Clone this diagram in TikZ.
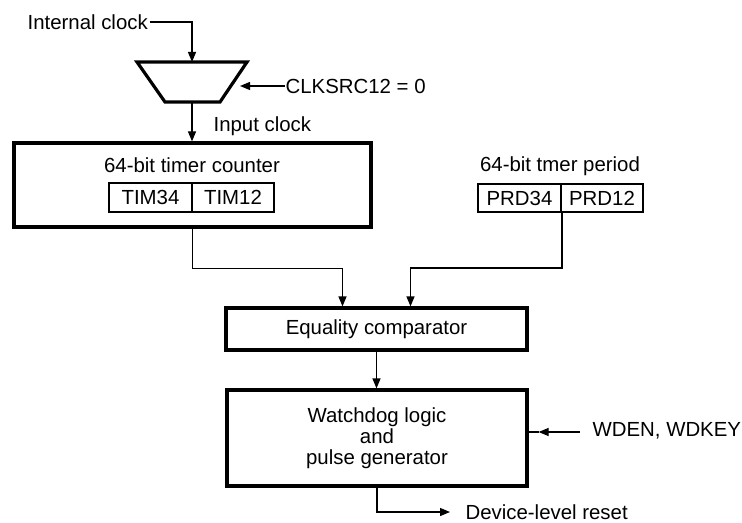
\documentclass[tikz,border=0pt]{standalone}
\usepackage{fontspec}
\setmainfont{Liberation Sans}
\usetikzlibrary{arrows.meta}
\tikzset{
  blk/.style={draw,line width=1.6pt,inner sep=0pt},
  reg/.style={draw,line width=0.9pt,inner sep=0pt},
  lbl/.style={inner sep=0pt},
  arr/.style={-{Triangle[length=5pt,width=4pt]}},
}
\begin{document}
\begin{tikzpicture}[x=0.5pt,y=-0.5pt,line width=0.6pt,font=\fontsize{10.2}{10.5}\selectfont]
  \useasboundingbox (0,0) rectangle (742,523);
  \node[lbl,anchor=west] (intclk) at (27,22) {Internal clock};
  \draw[line width=1.6pt,line join=miter] (137,62) coordinate (muxtop) -- (247,62)
    -- (220,102) -- (165,102) coordinate (muxbl) -- cycle;
  \coordinate (muxin) at (192,62);
  \coordinate (muxout) at (192,102);
  \node[lbl,anchor=west] (clksrc) at (285,86) {CLKSRC12 = 0};
  \coordinate (clktip) at (240,86);
  \node[lbl,anchor=base west] (inclk) at (213,131.5) {Input clock};
  \node[blk,minimum width=178.5pt,minimum height=42pt] (counter) at (192.5,185) {};
  \node[lbl,anchor=base] (cntname) at (192,173) {64-bit timer counter};
  \node[reg,minimum width=41.5pt,minimum height=14.5pt] (tim34) at (150.5,197.5) {TIM34};
  \node[reg,minimum width=41pt,minimum height=14.5pt] (tim12) at (233,197.5) {TIM12};
  \node[lbl,anchor=base] (prdname) at (560,172) {64-bit tmer period};
  \node[reg,minimum width=41.5pt,minimum height=14pt] (prd34) at (519.5,198) {PRD34};
  \node[reg,minimum width=41pt,minimum height=14pt] (prd12) at (602,198) {PRD12};
  \node[blk,minimum width=150.5pt,minimum height=21pt] (comp) at (376.5,329) {Equality comparator};
  \node[blk,minimum width=150pt,minimum height=48pt,align=center] (wdog) at (377,438)
    {Watchdog logic\\and\\pulse generator};
  \node[lbl,anchor=west] (wdkey) at (592,431) {WDEN, WDKEY};
  \coordinate (wdin) at (580,432);
  \node[lbl,anchor=west] (reset) at (465,512) {Device-level reset};
  \begin{scope}[arr]
    \draw ([xshift=1pt]intclk.east) -| (muxin);
    \draw (clksrc.west) -- (clktip);
    \draw (muxout) -- (muxout |- counter.north);
    \draw (counter.south) -- ++(0,40) -| ([xshift=-17pt]comp.north);
    \draw (prd34.south east) -- ++(0,55) -| ([xshift=17pt]comp.north);
    \draw (comp.south) -- (comp.south |- wdog.north);
    \draw (wdin) -- ([xshift=5pt]wdog.east |- wdin) coordinate (wdtip);
    \draw (wdog.south) |- ([xshift=-7.5pt]reset.west);
  \end{scope}
  \draw (wdtip) -- (wdog.east |- wdtip);
\end{tikzpicture}
\end{document}
